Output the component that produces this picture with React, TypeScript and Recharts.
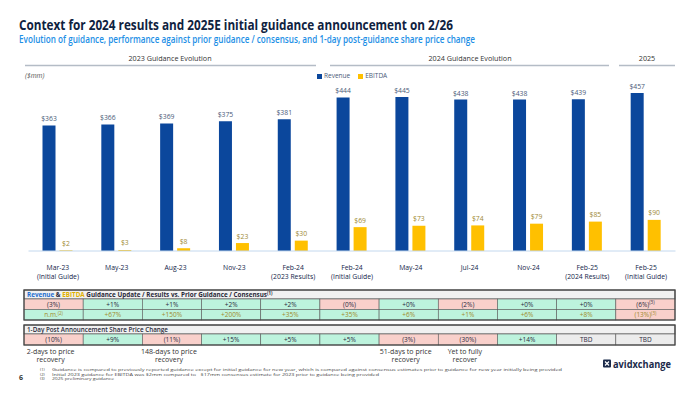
import React from 'react';
import { BarChart, Bar, XAxis, YAxis, LabelList, Legend } from 'recharts';

const categories = ['Mar-23', 'May-23', 'Aug-23', 'Nov-23', 'Feb-24', 'Feb-24', 'May-24', 'Jul-24', 'Nov-24', 'Feb-25', 'Feb-25'];
const subLabels = ['(Initial Guide)', '', '', '', '(2023 Results)', '(Initial Guide)', '', '', '', '(2024 Results)', '(Initial Guide)'];
const revenue = [363, 366, 369, 375, 381, 444, 445, 438, 438, 439, 457];
const ebitda = [2, 3, 8, 23, 30, 69, 73, 74, 79, 85, 90];

const revenueVsGuide = ['(3%)', '+1%', '+1%', '+2%', '+2%', '(0%)', '+0%', '(2%)', '+0%', '+0%', '(6%)'];
const revenueVsGuideTone = ['neg', 'pos', 'pos', 'pos', 'pos', 'neg', 'pos', 'neg', 'pos', 'pos', 'neg'];
const revenueVsGuideNote = ['', '', '', '', '', '', '', '', '', '', '(3)'];
const ebitdaVsGuide = ['n.m.', '+67%', '+150%', '+200%', '+35%', '+35%', '+6%', '+1%', '+6%', '+8%', '(13%)'];
const ebitdaVsGuideTone = ['pos', 'pos', 'pos', 'pos', 'pos', 'pos', 'pos', 'pos', 'pos', 'pos', 'neg'];
const ebitdaVsGuideNote = ['(2)', '', '', '', '', '', '', '', '', '', '(3)'];
const sharePriceChange = ['(10%)', '+9%', '(11%)', '+15%', '+5%', '+5%', '(3%)', '(30%)', '+14%', 'TBD', 'TBD'];
const sharePriceTone = ['neg', 'pos', 'neg', 'pos', 'pos', 'pos', 'neg', 'neg', 'pos', 'na', 'na'];
const recoveryNotes = [
  { col: 0, lines: ['2-days to price', 'recovery'] },
  { col: 2, lines: ['148-days to price', 'recovery'] },
  { col: 6, lines: ['51-days to price', 'recovery'] },
  { col: 7, lines: ['Yet to fully', 'recover'] },
];
const footnoteMarks = ['(1)', '(2)', '(3)'];
const footnoteTexts = [
  'Guidance is compared to previously reported guidance except for initial guidance for new year, which is compared against consensus estimates prior to guidance for new year initially being provided',
  'Initial 2023 guidance for EBITDA was $2mm compared to ~$17mm consensus estimate for 2023 prior to guidance being provided',
  '2025 preliminary guidance',
];
const footnoteWidths = [510, 327, 62];

const data = categories.map((c, i) => ({ key: `${c}|${subLabels[i]}`, revenue: revenue[i], ebitda: ebitda[i] }));

const FONT = "'Open Sans', 'Noto Sans', sans-serif";
const NAVY = '#13254a';
const REV = '#0b479c';
const EBT = '#ffc000';
const TONE: Record<string, string> = { pos: '#bdf3dd', neg: '#f9d0cb', na: '#ececec' };

const Tick = (props: any) => {
  const { x, y, payload } = props;
  const [a, b] = String(payload.value).split('|');
  return (
    <text x={x} y={y} textAnchor="middle" fontSize={6.8} fill={NAVY} fontFamily={FONT}>
      <tspan x={x} dy={10.5}>{a}</tspan>
      {b ? <tspan x={x} dy={9.2}>{b}</tspan> : null}
    </text>
  );
};

const LegendContent = () => (
  <div style={{ display: 'flex', alignItems: 'center', fontFamily: FONT, fontSize: 6.5, color: '#4a5a78', lineHeight: '8px' }}>
    <span style={{ width: 5, height: 5, background: REV, display: 'inline-block', marginRight: 2 }} />
    <span style={{ marginRight: 8 }}>Revenue</span>
    <span style={{ width: 5, height: 5, background: EBT, display: 'inline-block', marginRight: 2 }} />
    <span>EBITDA</span>
  </div>
);

const X0 = 24;
const X1 = 675;
const COLW = (X1 - X0) / 11;

function Row({ top, h, values, tones, notes, color }: any) {
  return (
    <g>
      {values.map((v: string, i: number) => (
        <g key={i}>
          <rect x={X0 + i * COLW} y={top} width={COLW} height={h} fill={TONE[tones[i]]} stroke="#5a5a5a" strokeWidth={0.6} />
          <text x={X0 + i * COLW + COLW / 2} y={top + h / 2 + 2.4} textAnchor="middle" fontSize={6.5} fill={color} fontFamily={FONT}>
            {v}
            {notes && notes[i] ? <tspan fontSize={4.5} dy={-2.2}>{notes[i]}</tspan> : null}
          </text>
        </g>
      ))}
    </g>
  );
}

export default function App() {
  return (
    <div style={{ position: 'absolute', left: 0, top: 0, width: 700, height: 394, background: '#fff', overflow: 'hidden' }}>
      <div style={{ position: 'absolute', left: 0, top: 0 }}>
        <BarChart width={700} height={394} data={data} margin={{ top: 85, right: 24.5, bottom: 105, left: 28.5 }} barGap={4} barSize={13}>
          <XAxis dataKey="key" height={30} tickLine={false} axisLine={{ stroke: '#c3d8ee', strokeWidth: 1 }} tick={<Tick />} interval={0} />
          <YAxis hide domain={[0, 480]} />
          <Legend content={<LegendContent />} wrapperStyle={{ position: 'absolute', top: 72, left: 317, width: 120 }} />
          <Bar dataKey="revenue" fill={REV} isAnimationActive={false}>
            <LabelList dataKey="revenue" position="top" offset={4} fontSize={6.8} fill="#4a5a78" fontFamily={FONT} formatter={(v: any) => `$${v}`} />
          </Bar>
          <Bar dataKey="ebitda" fill={EBT} isAnimationActive={false}>
            <LabelList dataKey="ebitda" position="top" offset={4.5} fontSize={6.8} fill="#9e8a35" fontFamily={FONT} formatter={(v: any) => `$${v}`} />
          </Bar>
        </BarChart>
      </div>
      <svg width={700} height={394} style={{ position: 'absolute', left: 0, top: 0, pointerEvents: 'none' }} fontFamily={FONT}>
        <text x={19} y={29.5} fontSize={14.5} fontWeight={700} fill="#0f2240" textLength={434} lengthAdjust="spacingAndGlyphs">
          Context for 2024 results and 2025E initial guidance announcement on 2/26
        </text>
        <text x={19} y={42.5} fontSize={9.8} fontWeight={600} fill="#1e8fe6" textLength={456} lengthAdjust="spacingAndGlyphs">
          Evolution of guidance, performance against prior guidance / consensus, and 1-day post-guidance share price change
        </text>

        <text x={170} y={61} textAnchor="middle" fontSize={7.2} fill="#333">2023 Guidance Evolution</text>
        <line x1={25} x2={316} y1={65.5} y2={65.5} stroke="#b4bcc6" strokeWidth={1.3} />
        <text x={470} y={61} textAnchor="middle" fontSize={7.2} fill="#333">2024 Guidance Evolution</text>
        <line x1={330} x2={609} y1={65.5} y2={65.5} stroke="#b4bcc6" strokeWidth={1.3} />
        <text x={647} y={61} textAnchor="middle" fontSize={7.2} fill="#333">2025</text>
        <line x1={619} x2={675} y1={65.5} y2={65.5} stroke="#b4bcc6" strokeWidth={1.3} />

        <text x={25} y={78} fontSize={6.8} fontStyle="italic" fill="#555">($mm)</text>

        {/* Table 1 */}
        <rect x={X0} y={290} width={X1 - X0} height={9} fill="#f1f1f1" stroke="#444" strokeWidth={0.8} />
        <text x={27} y={297} fontSize={6.3} fontWeight={700} fill="#2a2a3a">
          <tspan fill="#1e6fd0">Revenue</tspan>
          <tspan> &amp; </tspan>
          <tspan fill="#e0b000">EBITDA</tspan>
          <tspan> Guidance Update / Results vs. Prior Guidance / Consensus</tspan>
          <tspan fontSize={4.3} dy={-2.2}>(1)</tspan>
        </text>
        <Row top={299} h={10.5} values={revenueVsGuide} tones={revenueVsGuideTone} notes={revenueVsGuideNote} color="#2a2a40" />
        <Row top={309.5} h={10.5} values={ebitdaVsGuide} tones={ebitdaVsGuideTone} notes={ebitdaVsGuideNote} color="#a08b2b" />
        <rect x={X0} y={290} width={X1 - X0} height={30} fill="none" stroke="#444" strokeWidth={1.2} />

        {/* Table 2 */}
        <rect x={X0} y={325} width={X1 - X0} height={9} fill="#f1f1f1" stroke="#444" strokeWidth={0.8} />
        <text x={27} y={332} fontSize={6.3} fontWeight={600} fill="#2a2a3a">1-Day Post Announcement Share Price Change</text>
        <Row top={334} h={11} values={sharePriceChange} tones={sharePriceTone} color="#2a2a40" />
        <rect x={X0} y={325} width={X1 - X0} height={20} fill="none" stroke="#444" strokeWidth={1.2} />

        {recoveryNotes.map((n, i) => (
          <text key={i} x={X0 + n.col * COLW + COLW / 2 - 3} textAnchor="middle" fontSize={7} fill="#333">
            <tspan x={X0 + n.col * COLW + COLW / 2 - 3} y={354}>{n.lines[0]}</tspan>
            <tspan x={X0 + n.col * COLW + COLW / 2 - 3} y={362}>{n.lines[1]}</tspan>
          </text>
        ))}

        <text x={19} y={380} fontSize={7} fontWeight={700} fill="#333">6</text>
        {footnoteMarks.map((m, i) => (
          <g key={i}>
            <text x={40} y={371 + i * 4.6} fontSize={4.1} fill="#444">{m}</text>
            <text x={52} y={371 + i * 4.6} fontSize={4.1} fill="#444" textLength={footnoteWidths[i]} lengthAdjust="spacingAndGlyphs">{footnoteTexts[i]}</text>
          </g>
        ))}

        <rect x={603} y={359.5} width={8} height={8} rx={1} fill="#1b2a4a" />
        <path d="M605 361.5 L609 365.5 M609 361.5 L605 365.5" stroke="#fff" strokeWidth={1.2} />
        <text x={613} y={367.5} fontSize={10.5} fontWeight={700} fill="#1b2a4a" textLength={58} lengthAdjust="spacingAndGlyphs">avidxchange</text>
      </svg>
    </div>
  );
}
